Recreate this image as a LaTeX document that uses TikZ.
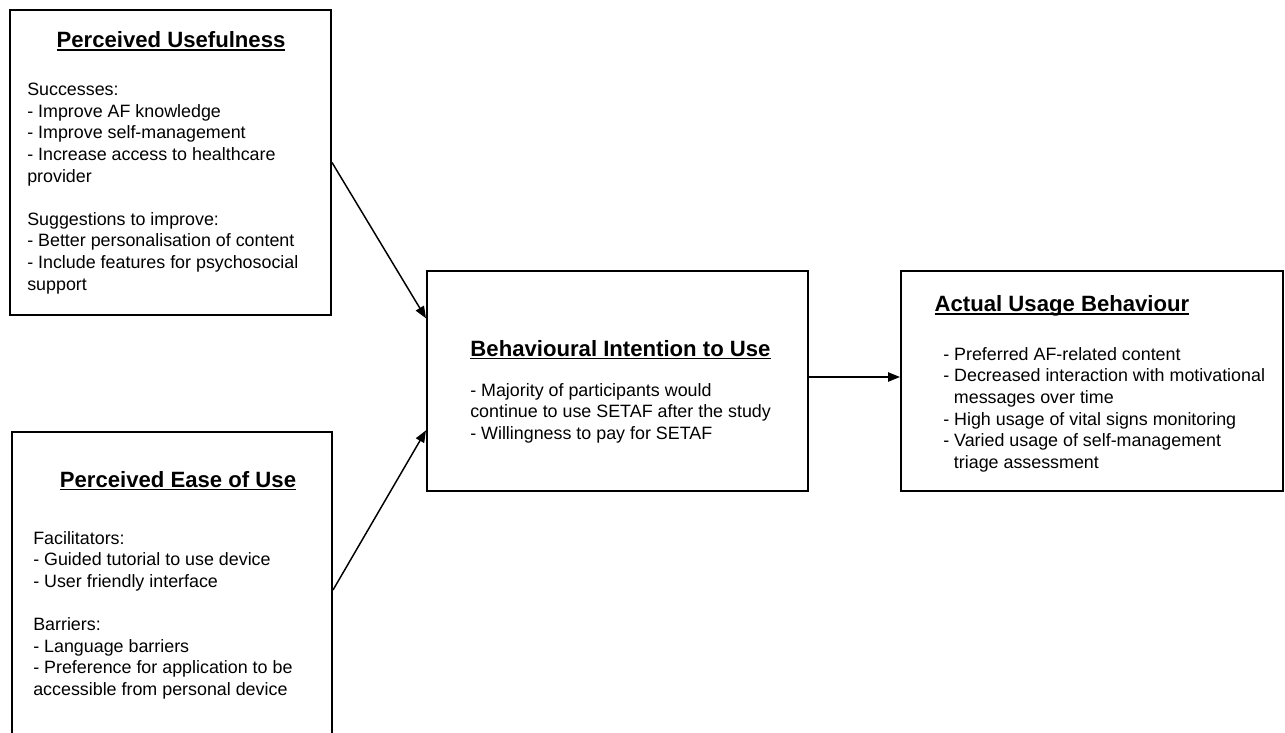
\documentclass[tikz,border=0pt]{standalone}
\usepackage{fontspec}
\setmainfont{Liberation Sans}
\usetikzlibrary{arrows.meta}

\newcommand{\bodyfont}{\fontsize{13.4}{16.2}\selectfont}
\newcommand{\headfont}{\fontsize{16.6}{19.9}\selectfont\bfseries}
\newcommand{\headline}[1]{\setbox0\hbox{#1}\rlap{\rule[-2.4pt]{\wd0}{1.1pt}}\box0}

\tikzset{
  box/.style 2 args={draw, line width=1.5pt, inner sep=0pt, minimum width=#1*0.75pt, minimum height=#2*0.75pt},
  head/.style={font=\headfont, anchor=base, inner sep=0pt},
  body/.style={font=\bodyfont, align=left, anchor=north west, inner sep=0pt},
  link/.style={line width=1.1pt, -{Triangle[length=9pt,width=7pt]}}
}

\begin{document}
\begin{tikzpicture}[x=0.75pt,y=0.75pt,yscale=-1,xscale=1]
\clip (0,0) rectangle (1285,732);

%Shape: Rectangle [id:pu]
\node[box={321}{305}] (pu) at (170.5,162.5) {};
%Shape: Rectangle [id:pe]
\node[box={320}{316}] (pe) at (172,590) {};
%Shape: Rectangle [id:bi]
\node[box={381}{220}] (bi) at (617.5,381) {};
%Shape: Rectangle [id:au]
\node[box={382}{220}] (au) at (1092,381) {};

%Straight Lines [id:pu-bi]
\draw[link] (pu.east) -- ([yshift=-47pt]bi.west);
%Straight Lines [id:pe-bi]
\draw[link] (pe.east) -- ([yshift=37pt]bi.west);
%Straight Lines [id:bi-au]
\draw[link] ([yshift=-3pt]bi.east) -- ([yshift=-3pt]au.west);

% Text Node
\node[head] (pu-title) at (171,47.5) {\headline{Perceived Usefulness}};
% Text Node
\node[body] (pu-text) at (27,83) {Successes:\\- Improve AF knowledge\\- Improve self-management\\- Increase access to healthcare\\provider\\[16.2pt]Suggestions to improve:\\- Better personalisation of content\\- Include features for psychosocial\\support};
% Text Node
\node[head] (pe-title) at (178,487) {\headline{Perceived Ease of Use}};
% Text Node
\node[body] (pe-text) at (33,531) {Facilitators:\\- Guided tutorial to use device\\- User friendly interface\\[16.2pt]Barriers:\\- Language barriers\\- Preference for application to be\\accessible from personal device};
% Text Node
\node[head] (bi-title) at (620.5,356) {\headline{Behavioural Intention to Use}};
% Text Node
\node[body] (bi-text) at (470,383) {- Majority of participants would\\continue to use SETAF after the study\\- Willingness to pay for SETAF};
% Text Node
\node[head] (au-title) at (1062,311.5) {\headline{Actual Usage Behaviour}};
% Text Node
\node[body] (au-text) at (943,347) {- Preferred AF-related content\\- Decreased interaction with motivational\\\hspace*{8pt}messages over time\\- High usage of vital signs monitoring\\- Varied usage of self-management\\\hspace*{8pt}triage assessment};

\end{tikzpicture}
\end{document}
